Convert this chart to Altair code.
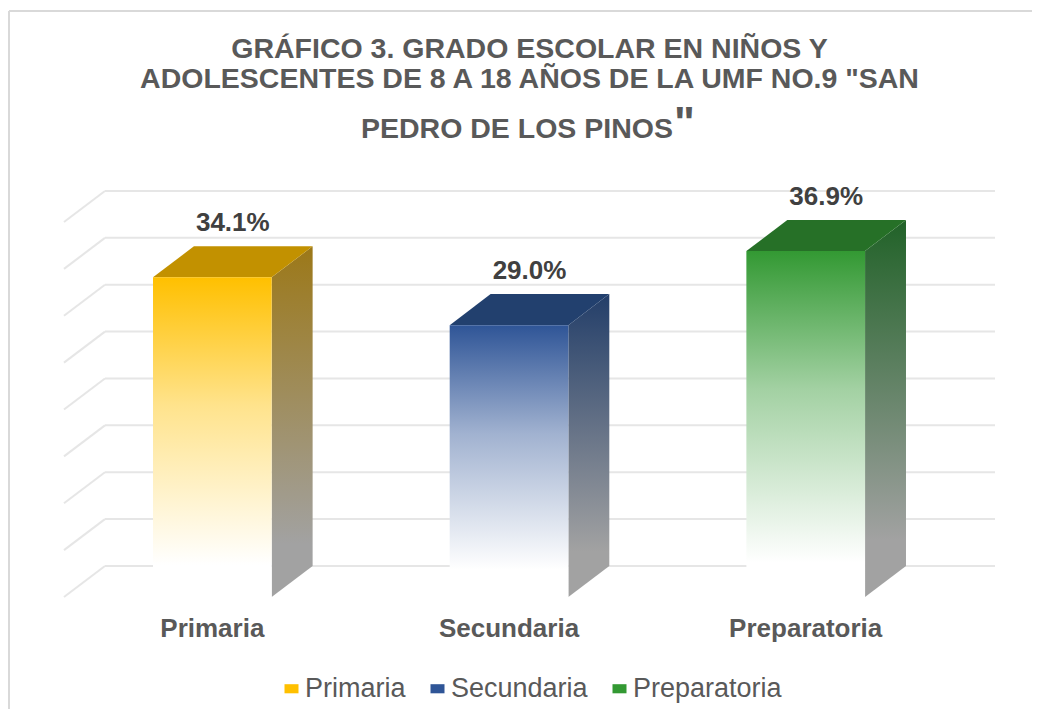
import altair as alt
import pandas as pd

# ---------------- data ----------------
categories = ["Primaria", "Secundaria", "Preparatoria"]
values = [34.1, 29.0, 36.9]
value_labels = ["34.1%", "29.0%", "36.9%"]
front_colors = ["#FFC000", "#2F5597", "#339933"]
top_colors = ["#C29100", "#22406E", "#267027"]
side_colors = ["#9C7818", "#233E69", "#216228"]
grid_values = [0, 5, 10, 15, 20, 25, 30, 35, 40]
y_max = 40

title_lines = ["GRÁFICO 3. GRADO ESCOLAR EN NIÑOS Y",
               'ADOLESCENTES DE 8 A 18 AÑOS DE LA UMF NO.9 "SAN',
               "PEDRO DE LOS PINOS"]
title_quote = '"'

# ---------------- style / geometry constants ----------------
DX = 0.138   # depth in x units
DY = 3.31    # depth in y units
HALF = 0.2   # half bar width
GREY = "#595959"
FONT = "Liberation Sans"
W, H = 931, 406
PAD = {"left": 56, "top": 183, "right": 37, "bottom": 112}

xs = alt.Scale(domain=[-0.5, len(categories) - 0.5 + DX], nice=False, zero=False)
ys = alt.Scale(domain=[0, y_max + DY], nice=False, zero=False)


def mix(c, t):
    r, g, b = int(c[1:3], 16), int(c[3:5], 16), int(c[5:7], 16)
    r, g, b = [round(v + (255 - v) * t) for v in (r, g, b)]
    return "#%02X%02X%02X" % (r, g, b)


def grad(stops):
    return alt.LinearGradient(
        gradient="linear", x1=0, y1=0, x2=0, y2=1,
        stops=[alt.GradientStop(offset=o, color=c) for o, c in stops])


bars = pd.DataFrame({"cat": categories, "pos": list(range(len(categories))),
                     "v": values, "lab": value_labels})
bars["xl"] = bars["pos"] - HALF
bars["xr"] = bars["pos"] + HALF
bars["y0"] = 0.0
bars["lx"] = bars["pos"] + DX / 2
bars["ly"] = bars["v"] + DY

grid = pd.DataFrame({"g": grid_values})
grid["xa"] = -0.5
grid["xb"] = -0.5 + DX
grid["xc"] = len(categories) - 0.5 + DX
grid["gb"] = grid["g"] + DY

one = pd.DataFrame({"k": [0]})

layers = []

# outer border (top and left edges only are visible in the picture)
layers.append(alt.Chart(one).mark_rule(color="#D9D9D9", strokeWidth=2).encode(
    x=alt.value(-55), y=alt.value(-180), y2=alt.value(H + PAD["bottom"])))
layers.append(alt.Chart(one).mark_rule(color="#D9D9D9", strokeWidth=2).encode(
    x=alt.value(-55), x2=alt.value(W + PAD["right"]), y=alt.value(-180)))

# gridlines (side wall diagonal + back wall)
layers.append(alt.Chart(grid).mark_rule(color="#E6E6E6", strokeWidth=2).encode(
    x=alt.X("xa:Q", scale=xs, axis=None), x2="xb:Q",
    y=alt.Y("g:Q", scale=ys, axis=None), y2="gb:Q"))
layers.append(alt.Chart(grid).mark_rule(color="#E6E6E6", strokeWidth=2).encode(
    x=alt.X("xb:Q", scale=xs, axis=None), x2="xc:Q",
    y=alt.Y("gb:Q", scale=ys, axis=None)))

for i, c in enumerate(categories):
    v = values[i]
    side_df = pd.DataFrame({"x": [i + HALF, i + HALF + DX],
                            "lo": [0.0, DY], "hi": [v, v + DY]})
    top_df = pd.DataFrame({"y": [v, v + DY],
                           "l": [i - HALF, i - HALF + DX],
                           "r": [i + HALF, i + HALF + DX]})
    layers.append(alt.Chart(side_df).mark_area(
        orient="vertical",
        fill=grad([(0, side_colors[i]), (0.85, "#A2A2A2"), (1, "#A2A2A2")])).encode(
        x=alt.X("x:Q", scale=xs, axis=None),
        y=alt.Y("hi:Q", scale=ys, axis=None), y2="lo:Q"))
    layers.append(alt.Chart(top_df).mark_area(
        orient="horizontal", fill=top_colors[i]).encode(
        y=alt.Y("y:Q", scale=ys, axis=None),
        x=alt.X("l:Q", scale=xs, axis=None), x2="r:Q"))
    layers.append(alt.Chart(bars).transform_filter(
        alt.datum.cat == c).mark_rect(
        fill=grad([(0, front_colors[i]), (0.4, mix(front_colors[i], 0.55)),
                   (0.9, "#FFFFFF"), (1, "#FFFFFF")])).encode(
        x=alt.X("xl:Q", scale=xs, axis=None), x2="xr:Q",
        y=alt.Y("v:Q", scale=ys, axis=None), y2="y0:Q"))

# zero-size rects only carrying the legend
layers.append(alt.Chart(bars).mark_rect().encode(
    x=alt.X("pos:Q", scale=xs, axis=None), x2="pos:Q",
    y=alt.Y("y0:Q", scale=ys, axis=None), y2="y0:Q",
    color=alt.Color("cat:N", scale=alt.Scale(domain=categories, range=front_colors),
                    legend=alt.Legend(orient="none", legendX=214, legendY=484,
                                      direction="horizontal", title=None,
                                      labelFontSize=27, labelColor=GREY, labelFont=FONT,
                                      symbolType="M-1,-0.65L1,-0.65L1,0.65L-1,0.65Z",
                                      symbolSize=196, symbolStrokeWidth=0,
                                      columnPadding=18, labelOffset=0, padding=0))))

# value labels
layers.append(alt.Chart(bars).mark_text(
    fontSize=26, fontWeight="bold", color="#404040", baseline="alphabetic",
    align="center", dy=-15, font=FONT).encode(
    x=alt.X("lx:Q", scale=xs, axis=None), y=alt.Y("ly:Q", scale=ys, axis=None),
    text="lab:N"))

# category labels
layers.append(alt.Chart(bars).mark_text(
    fontSize=26, fontWeight="bold", color=GREY, baseline="alphabetic",
    align="center", font=FONT).encode(
    x=alt.X("pos:Q", scale=xs, axis=None), y=alt.value(446), text="cat:N"))

# title (three lines, the last one closed by a large quote mark)
title_style = dict(fontSize=28.5, fontWeight="bold", color=GREY, baseline="alphabetic", font=FONT)
layers.append(alt.Chart(one).mark_text(text=title_lines[0], align="center", **title_style).encode(
    x=alt.value(W / 2), y=alt.value(-133)))
layers.append(alt.Chart(one).mark_text(text=title_lines[1], align="center", **title_style).encode(
    x=alt.value(W / 2), y=alt.value(-103)))
layers.append(alt.Chart(one).mark_text(text=title_lines[2], align="center", **title_style).encode(
    x=alt.value(453), y=alt.value(-53)))
layers.append(alt.Chart(one).mark_text(
    text=title_quote, fontSize=44, fontWeight="bold", color=GREY, align="left",
    baseline="alphabetic", font=FONT).encode(x=alt.value(610), y=alt.value(-53)))

chart = alt.layer(*layers).properties(
    width=W, height=H,
    autosize=alt.AutoSizeParams(type="none"),
    padding=PAD,
).configure(font=FONT, background="white").configure_view(strokeWidth=0)

chart.save("out.html", embed_options={"renderer": "svg", "actions": False})
